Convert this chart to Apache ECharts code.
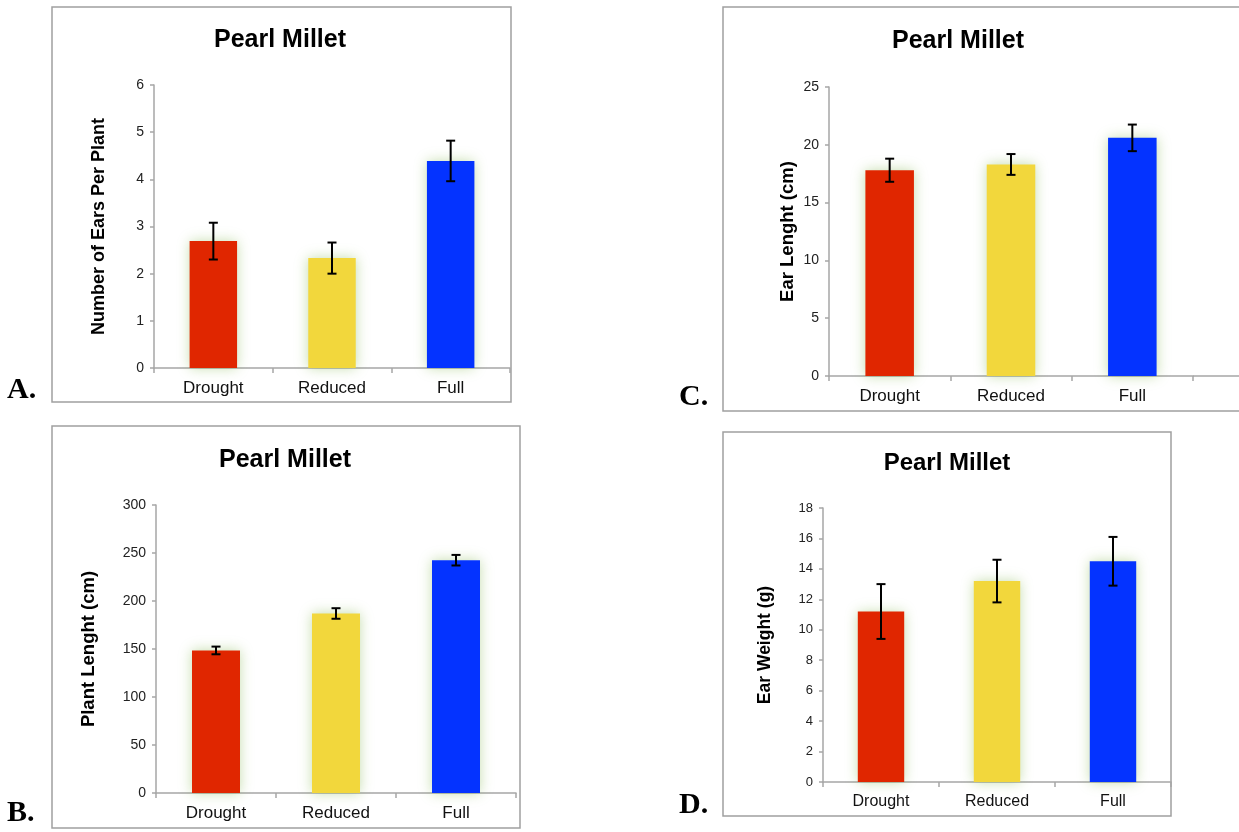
<!DOCTYPE html>
<html>
<head>
<meta charset="utf-8">
<script src="https://cdn.jsdelivr.net/npm/echarts@6/dist/echarts.min.js"></script>
<style>
html,body{margin:0;padding:0;background:#fff;}
#chart{width:1239px;height:832px;}
</style>
</head>
<body>
<div id="chart"></div>
<script>
// ---- data ----
var categories = ['Drought', 'Reduced', 'Full'];
var barColors = ['#e02600', '#f2d73c', '#0433ff'];
var chartTitle = 'Pearl Millet';

// A. Number of ears per plant
var earsPerPlant = [2.69, 2.33, 4.39];
var earsPerPlantErr = [0.39, 0.33, 0.43];
// B. Plant length
var plantLength = [148.5, 187, 242.5];
var plantLengthErr = [4, 5.5, 5.5];
// C. Ear length
var earLength = [17.8, 18.3, 20.6];
var earLengthErr = [1.0, 0.9, 1.15];
// D. Ear weight
var earWeight = [11.2, 13.2, 14.5];
var earWeightErr = [1.8, 1.4, 1.6];

var yNames = ['Number of Ears Per Plant', 'Plant Lenght (cm)', 'Ear Lenght (cm)', 'Ear Weight (g)'];
var yMax = [6, 300, 25, 18];
var yInterval = [1, 50, 5, 2];
var panelLetters = ['A.', 'B.', 'C.', 'D.'];

// ---- layout ----
var panels = [
  {values: earsPerPlant, errs: earsPerPlantErr, grid: {left: 154, top: 85, width: 356, height: 283},
   box: [52, 7, 459, 395], title: [280, 40, 25], letter: [7, 405], nameGap: 46, nameSize: 18, tickSize: 14, catSize: 17},
  {values: plantLength, errs: plantLengthErr, grid: {left: 156, top: 505, width: 360, height: 288},
   box: [52, 426, 468, 402], title: [285, 460, 25], letter: [7, 828], nameGap: 58, nameSize: 18.5, tickSize: 14, catSize: 17},
  {values: earLength, errs: earLengthErr, grid: {left: 829, top: 87, width: 364, height: 289},
   box: [723, 7, 530, 404], title: [958, 41, 25], letter: [679, 412], nameGap: 32, nameSize: 18.5, tickSize: 14, catSize: 17, extendAxis: 1239},
  {values: earWeight, errs: earWeightErr, grid: {left: 823, top: 508, width: 348, height: 274},
   box: [723, 432, 448, 384], title: [947, 463, 24], letter: [679, 820], nameGap: 49, nameSize: 17.5, tickSize: 13, catSize: 16}
];

var FONT = '"Liberation Sans", Arial, Helvetica, sans-serif';
var axisGray = '#a6a6a6';

var option = {
  backgroundColor: '#fff',
  animation: false,
  grid: [], xAxis: [], yAxis: [], series: [], graphic: []
};

panels.forEach(function (p, i) {
  option.grid.push(Object.assign({containLabel: false}, p.grid));
  option.xAxis.push({
    type: 'category', gridIndex: i, data: categories,
    axisLine: {lineStyle: {color: axisGray, width: 1.5}},
    axisTick: {show: true, length: 5, lineStyle: {color: axisGray, width: 1.5}},
    axisLabel: {color: '#111', fontSize: p.catSize, fontFamily: FONT, margin: 12}
  });
  option.yAxis.push({
    type: 'value', gridIndex: i, min: 0, max: yMax[i], interval: yInterval[i],
    splitLine: {show: false},
    axisLine: {show: true, lineStyle: {color: axisGray, width: 1.5}},
    axisTick: {show: true, length: 4, lineStyle: {color: axisGray, width: 1.5}},
    axisLabel: {color: '#222', fontSize: p.tickSize, fontFamily: FONT, margin: 10},
    name: yNames[i], nameLocation: 'middle', nameRotate: 90, nameGap: p.nameGap,
    nameTextStyle: {color: '#000', fontWeight: 'bold', fontSize: p.nameSize, fontFamily: FONT}
  });
  option.series.push({
    type: 'bar', xAxisIndex: i, yAxisIndex: i, barWidth: '40%',
    data: p.values.map(function (v, k) {
      return {value: v, itemStyle: {color: barColors[k]}};
    }),
    itemStyle: {shadowBlur: 12, shadowColor: 'rgba(110,170,50,0.4)'},
    z: 2
  });
  var errData = p.values.map(function (v, k) { return [k, v - p.errs[k], v + p.errs[k]]; });
  option.series.push({
    type: 'custom', xAxisIndex: i, yAxisIndex: i, data: errData, z: 5,
    renderItem: function (params, api) {
      var x = api.value(0);
      var lo = api.coord([x, api.value(1)]);
      var hi = api.coord([x, api.value(2)]);
      var hw = 4.5;
      var st = {stroke: '#000', lineWidth: 2};
      return {type: 'group', children: [
        {type: 'line', shape: {x1: lo[0], y1: lo[1], x2: hi[0], y2: hi[1]}, style: st},
        {type: 'line', shape: {x1: lo[0] - hw, y1: lo[1], x2: lo[0] + hw, y2: lo[1]}, style: st},
        {type: 'line', shape: {x1: hi[0] - hw, y1: hi[1], x2: hi[0] + hw, y2: hi[1]}, style: st}
      ]};
    }
  });
  option.graphic.push({
    type: 'rect', shape: {x: p.box[0], y: p.box[1], width: p.box[2], height: p.box[3]},
    style: {fill: 'none', stroke: '#a0a0a0', lineWidth: 1.5}, silent: true, z: -1
  });
  option.graphic.push({
    type: 'text', x: p.title[0], y: p.title[1],
    style: {text: chartTitle, textAlign: 'center', textVerticalAlign: 'middle',
      font: 'bold ' + p.title[2] + 'px ' + FONT, fill: '#000'}
  });
  option.graphic.push({
    type: 'text', x: p.letter[0], y: p.letter[1],
    style: {text: panelLetters[i], textAlign: 'left', textVerticalAlign: 'bottom',
      font: 'bold 30px "Liberation Serif", "Times New Roman", serif', fill: '#000'}
  });
  if (p.extendAxis) {
    var yb = p.grid.top + p.grid.height;
    var xe = p.grid.left + p.grid.width;
    option.graphic.push({
      type: 'line', shape: {x1: xe, y1: yb, x2: p.extendAxis, y2: yb},
      style: {stroke: axisGray, lineWidth: 1.5}, silent: true
    });
  }
});

var chart = echarts.init(document.getElementById('chart'), null, {renderer: 'canvas'});
chart.setOption(option);
</script>
</body>
</html>
